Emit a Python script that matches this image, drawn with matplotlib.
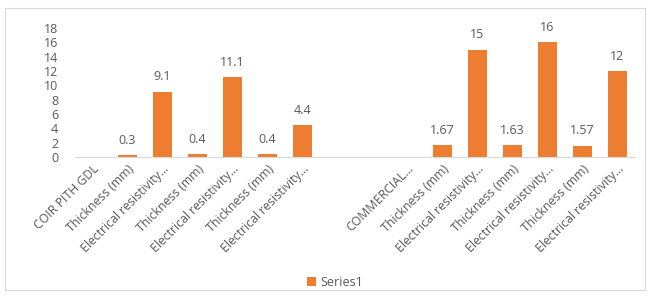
import matplotlib
matplotlib.use("Agg")
import matplotlib.pyplot as plt
import numpy as np

categories = ["COIR PITH GDL", "Thickness (mm)", "Electrical resistivity...",
              "Thickness (mm)", "Electrical resistivity...", "Thickness (mm)",
              "Electrical resistivity...", "", "", "COMMERCIAL...",
              "Thickness (mm)", "Electrical resistivity...", "Thickness (mm)",
              "Electrical resistivity...", "Thickness (mm)", "Electrical resistivity..."]
values = [None, 0.3, 9.1, 0.4, 11.1, 0.4, 4.4, None, None, None,
          1.67, 15, 1.63, 16, 1.57, 12]
value_labels = ["", "0.3", "9.1", "0.4", "11.1", "0.4", "4.4", "", "", "",
                "1.67", "15", "1.63", "16", "1.57", "12"]
series_name = "Series1"
yticks = [0, 2, 4, 6, 8, 10, 12, 14, 16, 18]

plt.rcParams['font.family'] = ['Open Sans', 'DejaVu Sans']
gray = "#595959"
orange = "#ED7D31"

fig = plt.figure(figsize=(6.52, 3.0), dpi=100)
fig.patch.set_facecolor("white")
# outer chart border
border = plt.Rectangle((5/652, 10/300), 640/652, 282/300, transform=fig.transFigure,
                       fill=False, edgecolor="#D9D9D9", linewidth=0.8)
fig.add_artist(border)

ax = fig.add_axes([75/652, 1-157/300, 560/652, 129/300])
x = np.arange(len(categories))
heights = np.array([np.nan if v is None else v for v in values], dtype=float)
bars = ax.bar(x, heights, width=0.57, color=orange, label=series_name)
for xi, h, lab in zip(x, heights, value_labels):
    if not np.isnan(h) and lab:
        ax.annotate(lab, (xi, h), xytext=(0, 6), textcoords="offset points",
                    ha="center", va="bottom", fontsize=9, color=gray)

ax.set_xlim(-0.5, len(categories) - 0.5)
ax.set_ylim(0, 18)
ax.set_yticks(yticks)
ax.set_yticklabels([str(t) for t in yticks], fontsize=9, color=gray)
ax.set_xticks(x)
ax.set_xticklabels(categories, rotation=45, ha="right", rotation_mode="anchor",
                   fontsize=8.8, color=gray)
ax.tick_params(axis="both", length=0)
ax.tick_params(axis="y", pad=12)
ax.tick_params(axis="x", pad=4)
for s in ["top", "right", "left"]:
    ax.spines[s].set_visible(False)
ax.spines["bottom"].set_color("#D9D9D9")
ax.spines["bottom"].set_linewidth(0.8)

fig.legend(handles=[bars], labels=[series_name], loc="center",
           bbox_to_anchor=(335/652, 1-282/300), frameon=False, fontsize=9,
           labelcolor=gray, handlelength=0.7, handleheight=0.7, handletextpad=0.4)

fig.savefig("out.png", dpi=100)
